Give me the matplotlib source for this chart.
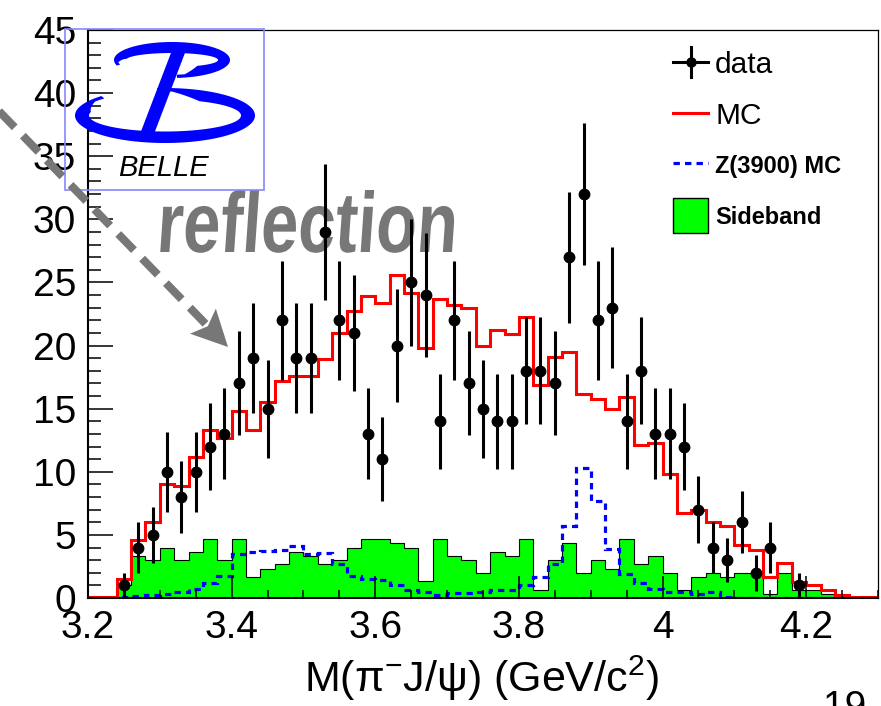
import numpy as np
import matplotlib
matplotlib.use('Agg')
import matplotlib.pyplot as plt
from matplotlib.patches import Rectangle, Polygon, PathPatch
from matplotlib.textpath import TextPath
from matplotlib.font_manager import FontProperties
from matplotlib.transforms import Affine2D
from matplotlib.ticker import MultipleLocator

plt.rcParams['font.family'] = ['Liberation Sans', 'DejaVu Sans']
plt.rcParams['mathtext.fontset'] = 'custom'
plt.rcParams['mathtext.rm'] = 'Liberation Sans'
plt.rcParams['mathtext.it'] = 'Liberation Sans:italic'
plt.rcParams['mathtext.bf'] = 'Liberation Sans:bold'

# binning: 55 bins of 20 MeV from 3.20 to 4.30
bin_lo, bin_hi, bin_w = 3.20, 4.30, 0.02

# events per bin (data)
data = [0, 0, 1, 4, 5, 10, 8, 10, 12, 13,
        17, 19, 15, 22, 19, 19, 29, 22, 21, 13,
        11, 20, 25, 24, 14, 22, 17, 15, 14, 14,
        18, 18, 17, 27, 32, 22, 23, 14, 18, 13,
        13, 12, 7, 4, 3, 6, 2, 4, 0, 1,
        0, 0, 0, 0, 0]

# phase-space MC, normalised
mc = [0.1, 0.1, 1.5, 4.6, 6.0, 9.05, 8.9, 11.2, 13.3, 12.7,
      14.8, 13.3, 15.5, 17.2, 17.6, 17.6, 18.9, 21.0, 22.7, 23.9,
      23.4, 25.6, 24.2, 19.8, 23.7, 23.2, 23.0, 20.0, 21.2, 20.9,
      22.3, 16.9, 19.1, 19.5, 16.2, 15.8, 15.0, 15.9, 12.1, 12.3,
      9.8, 6.7, 7.0, 6.06, 5.7, 4.2, 3.8, 1.7, 2.8, 1.3,
      1.0, 0.6, 0.24, 0.05, 0.05]

# Z(3900) signal MC
zc_mc = [0.02, 0.02, 0.08, 0.18, 0.25, 0.35, 0.5, 0.75, 1.22, 1.78,
         3.5, 3.67, 3.75, 3.8, 4.15, 3.5, 3.6, 2.7, 1.75, 1.5,
         1.45, 1.03, 0.63, 0.5, 0.24, 0.37, 0.37, 0.5, 0.63, 0.63,
         1.0, 1.7, 2.7, 5.7, 10.3, 7.7, 3.9, 1.9, 1.2, 0.7,
         0.45, 0.45, 0.3, 0.45, 0.05, 0.03, 0.03, 0.02, 0.02, 0.02,
         0.02, 0.02, 0.02, 0.02, 0.02]

# J/psi sideband, scaled
sideband = [0, 0, 1.0, 3.33, 3.0, 4.0, 3.0, 3.67, 4.67, 3.0,
            4.67, 1.67, 2.33, 2.67, 3.67, 3.33, 2.67, 3.0, 4.0, 4.67,
            4.67, 4.33, 4.0, 1.33, 4.67, 3.33, 3.0, 2.0, 3.67, 3.33,
            4.67, 0.67, 3.0, 4.33, 2.0, 3.0, 2.33, 4.67, 2.67, 3.33,
            2.0, 0.67, 1.67, 2.0, 1.67, 2.0, 2.0, 0.33, 2.0, 0.67,
            0.67, 0.33, 0, 0, 0]

xtick_vals = [3.2, 3.4, 3.6, 3.8, 4.0, 4.2]
xtick_labels = ['3.2', '3.4', '3.6', '3.8', '4', '4.2']
ytick_vals = [0, 5, 10, 15, 20, 25, 30, 35, 40, 45]
ytick_labels = ['0', '5', '10', '15', '20', '25', '30', '35', '40', '45']

edges = bin_lo + bin_w * np.arange(len(data) + 1)
centers = 0.5 * (edges[:-1] + edges[1:])
data = np.array(data, dtype=float)
nz = data > 0

fig = plt.figure(figsize=(8.81, 7.06), dpi=100)
ax = fig.add_axes([88 / 881, 108 / 706, 790 / 881, 568 / 706])

ax.stairs(sideband, edges, fill=True, facecolor='#00ff00', edgecolor='black',
          linewidth=0.8, zorder=1)
ax.stairs(zc_mc, edges, color='#0000ff', linewidth=2.3,
          linestyle=(0, (2.0, 1.6)), zorder=2)
ax.stairs(mc, edges, color='red', linewidth=2.2, zorder=2.1)
ax.errorbar(centers[nz], data[nz], yerr=np.sqrt(data[nz]), fmt='o', color='black',
            markersize=7.5, elinewidth=2.2, capsize=0, zorder=3)

ax.set_xlim(bin_lo, bin_hi)
ax.set_ylim(0, 45)
ax.set_xticks(xtick_vals)
ax.set_xticklabels(xtick_labels)
ax.set_yticks(ytick_vals)
ax.set_yticklabels(ytick_labels)
ax.xaxis.set_minor_locator(MultipleLocator(0.05))
ax.yaxis.set_minor_locator(MultipleLocator(1))
ax.tick_params(axis='x', which='major', direction='in', length=16, width=1.1,
               labelsize=28, pad=9)
ax.tick_params(axis='x', which='minor', direction='in', length=6, width=1.1)
ax.tick_params(axis='y', which='major', direction='in', length=18, width=1.1,
               labelsize=28, pad=8.5)
ax.tick_params(axis='y', which='minor', direction='in', length=9.5, width=1.1)
ax.set_axisbelow(False)
for side in ['left', 'bottom']:
    ax.spines[side].set_linewidth(1.5)
for side in ['top', 'right']:
    ax.spines[side].set_linewidth(0.9)

fig.text(482 / 881, 1 - 692 / 706, r'M(π$^{-}$J/ψ) (GeV/c$^{2}$)',
         ha='center', va='baseline', fontsize=31)
fig.text(845 / 881, 1 - 718 / 706, '19', ha='center', va='baseline', fontsize=28)

# overlay in pixel units for the logo, legend and annotation
ov = fig.add_axes([0, 0, 1, 1])
ov.set_xlim(0, 881)
ov.set_ylim(706, 0)
ov.set_axis_off()

# "reflection" label, squeezed to a narrow hand-lettered width
tp = TextPath((0, 0), 'reflection', size=100,
              prop=FontProperties(family='Liberation Sans', weight='bold'))
ext = tp.get_extents()
sx = 292 / ext.width
sy = 62 / ext.y1
tr = Affine2D().translate(-ext.x0, 0).scale(sx, -sy).skew_deg(-4, 0).translate(160, 252)
ax.add_patch(PathPatch(tp, transform=tr + ov.transData, facecolor='#777777',
                       edgecolor='none', zorder=1.8, clip_on=False))

# dashed arrow
tip = np.array([228.0, 347.0])
start = np.array([-6.0, 106.0])
d = (tip - start) / np.linalg.norm(tip - start)
n = np.array([-d[1], d[0]])
base = tip - 36 * d
ov.plot([start[0], base[0] + 6 * d[0]], [start[1], base[1] + 6 * d[1]],
        color='#777777', linewidth=5.8, linestyle=(0, (2.8, 1.45)),
        solid_capstyle='butt', dash_capstyle='butt', clip_on=False)
ov.add_patch(Polygon([tip, base + 18 * n, base + 7 * d, base - 18 * n],
                     closed=True, facecolor='#777777', edgecolor='none'))


def stroke(cx, cy, ao, bo, ai, bi, t0, t1):
    t = np.linspace(t0, t1, 200)
    s = np.linspace(0, 1, 200)
    w = np.clip(np.minimum(s, 1 - s) / 0.1, 0.3, 1.0)
    a_in = ao - (ao - ai) * w
    b_in = bo - (bo - bi) * w
    r = np.radians(t)
    xo, yo = cx + ao * np.cos(r), cy - bo * np.sin(r)
    xi, yi = cx + a_in * np.cos(r), cy - b_in * np.sin(r)
    return np.column_stack([np.concatenate([xo, xi[::-1]]),
                            np.concatenate([yo, yi[::-1]])])


# Belle logo
ov.add_patch(Rectangle((65, 29), 199, 161, fill=False, edgecolor='#8888ff',
                       linewidth=1.2))
blue = '#0000ff'
ov.add_patch(Polygon(stroke(165, 115.5, 90, 27.5, 76, 16, 95, -225),
                     facecolor=blue, edgecolor='none'))
ov.add_patch(Polygon(stroke(172, 60, 58, 18, 46, 7, 198, -85),
                     facecolor=blue, edgecolor='none'))
ov.add_patch(Polygon([(174, 45), (188, 45), (154, 134), (140, 134)],
                     facecolor=blue, edgecolor='none'))
ov.text(118, 176, 'BELLE', fontsize=21, style='italic', ha='left', va='baseline')

# legend
ov.plot([673, 708], [62, 62], color='black', linewidth=2.2)
ov.plot([691, 691], [47, 77], color='black', linewidth=2.2)
ov.plot([691], [62], 'o', color='black', markersize=6.5)
ov.text(715, 73, 'data', fontsize=21.5, ha='left', va='baseline')
ov.plot([673, 708], [113, 113], color='red', linewidth=2.2)
ov.text(715, 124, 'MC', fontsize=21.5, ha='left', va='baseline')
ov.plot([673, 708], [163, 163], color='#0000ff', linewidth=2.3,
        linestyle=(0, (2.0, 1.6)))
ov.text(715, 173, 'Z(3900) MC', fontsize=17, fontweight='bold', ha='left',
        va='baseline')
ov.add_patch(Rectangle((673, 198), 35, 35, facecolor='#00ff00',
                       edgecolor='black', linewidth=1.0))
ov.text(715, 224, 'Sideband', fontsize=17, fontweight='bold', ha='left',
        va='baseline')

fig.savefig('out.png', dpi=100)
plt.close(fig)
